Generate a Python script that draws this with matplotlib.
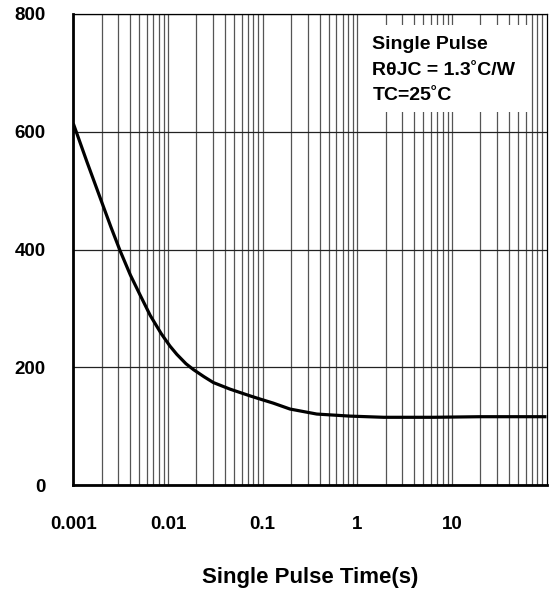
import numpy as np
import matplotlib.pyplot as plt
from matplotlib.patches import Rectangle
from matplotlib.ticker import LogLocator, FixedLocator, NullFormatter

plt.rcParams['font.family'] = ['Liberation Sans', 'DejaVu Sans']
plt.rcParams['font.weight'] = 'bold'

# curve
t = [0.001, 0.0014, 0.00192, 0.0025, 0.00312, 0.0040, 0.00507, 0.0065, 0.0085,
     0.0105, 0.0124, 0.0155, 0.0186, 0.024, 0.0302, 0.045, 0.058, 0.075, 0.094,
     0.13, 0.195, 0.374, 0.84, 1.9, 6.4, 20, 100]
p = [614, 548, 488, 438, 398, 357, 323, 288, 257,
     236, 222, 206, 196, 184, 174, 163, 157, 151, 146,
     139, 129, 120.5, 117, 115, 115, 116, 116]

xticks = [0.001, 0.01, 0.1, 1, 10]
xlabels = ['0.001', '0.01', '0.1', '1', '10']
yticks = [0, 200, 400, 600, 800]
note = 'Single Pulse\nRθJC = 1.3˚C/W\nTC=25˚C'

W, H = 551, 596
fig = plt.figure(figsize=(W / 100, H / 100), dpi=100)
ax = fig.add_axes([73.3 / W, 1 - 485 / H, 473.2 / W, 471 / H])

ax.plot(t, p, color='black', lw=2.3, zorder=3, solid_capstyle='butt')

ax.set_xscale('log')
ax.set_xlim(0.001, 100)
ax.set_ylim(0, 800)
ax.xaxis.set_major_locator(FixedLocator(xticks))
ax.set_xticklabels(xlabels)
ax.xaxis.set_minor_locator(LogLocator(base=10, subs=np.arange(2, 10)))
ax.xaxis.set_minor_formatter(NullFormatter())
ax.set_yticks(yticks)

ax.grid(True, which='both', axis='x', color='#555555', lw=0.9)
ax.grid(True, which='major', axis='y', color='#222222', lw=0.9)
ax.tick_params(which='both', length=0, labelsize=13.5)
ax.tick_params(axis='y', pad=20)
ax.tick_params(axis='x', pad=22)

for s in ['left', 'bottom']:
    ax.spines[s].set_linewidth(2)
for s in ['top', 'right']:
    ax.spines[s].set_linewidth(0.9)

ax.set_xlabel('Single Pulse Time(s)', fontsize=16, fontweight='bold', labelpad=25)

# white patch behind the note, hiding the grid
fig.add_artist(Rectangle((365 / W, 1 - 112 / H), (528 - 365) / W, (112 - 25) / H,
                         transform=fig.transFigure, facecolor='white',
                         edgecolor='none', zorder=2.5))
fig.text(372.5 / W, 1 - 36 / H, note, ha='left', va='top', fontsize=14,
         fontweight='bold', linespacing=1.67, zorder=4)

fig.savefig('out.png', dpi=100)
